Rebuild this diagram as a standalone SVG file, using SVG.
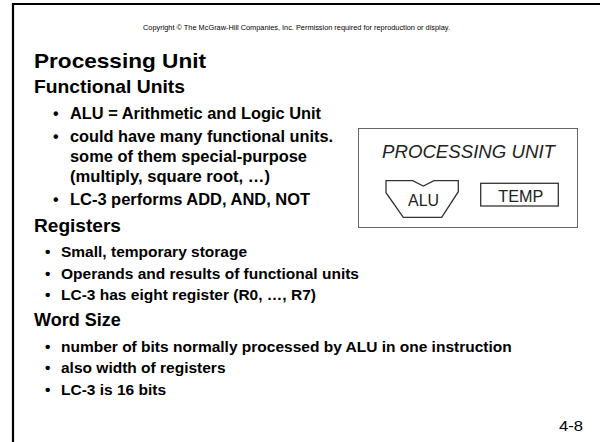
<svg xmlns="http://www.w3.org/2000/svg" width="600" height="442" viewBox="0 0 600 442">
<style>
text{font-family:"Liberation Sans",Arial,sans-serif;fill:#000}
.t{font-weight:bold;font-size:21px}
.h{font-weight:bold;font-size:18px}
.b{font-weight:bold;font-size:16px}
.l{font-weight:bold;font-size:15.5px}
.c{font-size:7px}
.n{font-size:14px}
.pu{font-size:18.5px;font-style:italic;fill:#222}
.u{font-size:17px;fill:#222}
.frame{stroke:#000;stroke-width:2.2;fill:none}
.box{stroke:#666;stroke-width:1;fill:#fff}
.part{stroke:#333;stroke-width:1.3;fill:#fff}
</style>
<rect width="600" height="442" fill="#fff"/>
<path class="frame" d="M13,442 V4 H600"/>
<text class="c" x="143" y="30" textLength="307" lengthAdjust="spacingAndGlyphs">Copyright © The McGraw-Hill Companies, Inc.  Permission required for reproduction or display.</text>
<text class="t" x="34" y="68" textLength="172" lengthAdjust="spacingAndGlyphs">Processing Unit</text>
<text class="h" x="34" y="93" textLength="151" lengthAdjust="spacingAndGlyphs">Functional Units</text>
<g class="b">
<text x="53" y="119">•</text><text x="70" y="119" textLength="251" lengthAdjust="spacingAndGlyphs">ALU = Arithmetic and Logic Unit</text>
<text x="53" y="142">•</text><text x="70" y="142" textLength="263" lengthAdjust="spacingAndGlyphs">could have many functional units.</text>
<text x="70" y="162" textLength="237" lengthAdjust="spacingAndGlyphs">some of them special-purpose</text>
<text x="70" y="182" textLength="200" lengthAdjust="spacingAndGlyphs">(multiply, square root, …)</text>
<text x="53" y="205">•</text><text x="70" y="205" textLength="240" lengthAdjust="spacingAndGlyphs">LC-3 performs ADD, AND, NOT</text>
</g>
<text class="h" x="34" y="232" textLength="87" lengthAdjust="spacingAndGlyphs">Registers</text>
<g class="l">
<text x="45" y="257">•</text><text x="61" y="257">Small, temporary storage</text>
<text x="45" y="279">•</text><text x="61" y="279">Operands and results of functional units</text>
<text x="45" y="300">•</text><text x="61" y="300">LC-3 has eight register (R0, …, R7)</text>
</g>
<text class="h" x="34" y="326">Word Size</text>
<g class="l">
<text x="45" y="352">•</text><text x="61" y="352">number of bits normally processed by ALU in one instruction</text>
<text x="45" y="373">•</text><text x="61" y="373">also width of registers</text>
<text x="45" y="395">•</text><text x="61" y="395">LC-3 is 16 bits</text>
</g>
<text class="n" x="559" y="431" textLength="24" lengthAdjust="spacingAndGlyphs">4-8</text>
<g id="processing-unit">
<rect class="box" x="358.5" y="128.5" width="219" height="99"/>
<text class="pu" x="382" y="158" textLength="173" lengthAdjust="spacingAndGlyphs">PROCESSING UNIT</text>
</g>
<g id="alu">
<path class="part" d="M386,180.7 H412.7 L423.3,186 L434,180.7 H458.3 V191.7 L441.7,217.3 H403.3 L386,192.7 Z"/>
<text class="u" x="408" y="205.7" textLength="31" lengthAdjust="spacingAndGlyphs">ALU</text>
</g>
<g id="temp">
<rect class="part" x="480.7" y="183.3" width="77.6" height="22.7"/>
<text class="u" x="498.3" y="202.3" textLength="45" lengthAdjust="spacingAndGlyphs">TEMP</text>
</g>
<g id="connectors"/>
</svg>
